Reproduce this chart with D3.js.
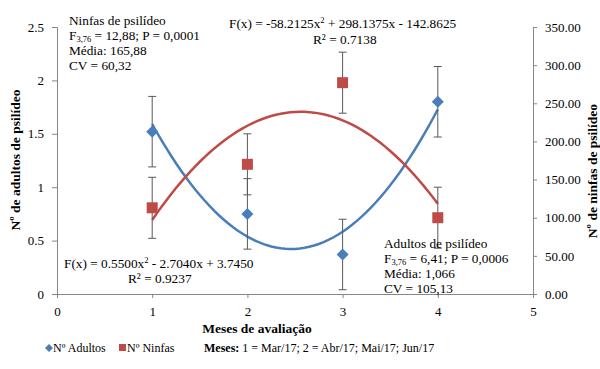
<!DOCTYPE html>
<html>
<head>
<meta charset="utf-8">
<script src="https://d3js.org/d3.v7.min.js"></script>
<style>
  body { margin: 0; background: #fff; }
  svg text { font-family: "Liberation Serif", "Times New Roman", Times, "DejaVu Serif", serif; fill: #000; }
  .axis path, .axis line { stroke: #868686; }
  .axis text { font-size: 13px; }
  .note { font-size: 13.3px; }
  .title { font-size: 13.5px; font-weight: bold; }
  .leg { font-size: 12px; }
</style>
</head>
<body>
<div id="viz"></div>
<script>
  // months 1..4
  var meses = [1, 2, 3, 4];
  var adultos = [1.52, 0.75, 0.37, 1.80];
  var adultosErr = [0.33, 0.33, 0.33, 0.33];
  var ninfas = [113, 170, 277, 100];
  var ninfasErr = [40, 40, 40, 40];

  // trend line coefficients (a, b, c) as printed on the chart
  var adultosTrend = [0.5500, -2.7040, 3.7450];
  var ninfasTrend = [-58.2125, 298.1375, -142.8625];

  var xTicks = [0, 1, 2, 3, 4, 5];
  var yLeftTicks = [0, 0.5, 1, 1.5, 2, 2.5];
  var yRightTicks = [0, 50, 100, 150, 200, 250, 300, 350];

  var width = 600, height = 369;
  var blue = "#4a7ebb", red = "#be4b48";

  var svg = d3.select("#viz").append("svg")
    .attr("width", width)
    .attr("height", height);

  var x = d3.scaleLinear().domain([0, 5]).range([57, 533]);
  var yL = d3.scaleLinear().domain([0, 2.5]).range([294, 27]);
  var yR = d3.scaleLinear().domain([0, 350]).range([294, 27]);

  // axes
  svg.append("g").attr("class", "axis")
    .attr("transform", "translate(0,294)")
    .call(d3.axisBottom(x).tickValues(xTicks).tickSize(4).tickPadding(9).tickFormat(d3.format("d")));

  svg.append("g").attr("class", "axis")
    .attr("transform", "translate(57,0)")
    .call(d3.axisLeft(yL).tickValues(yLeftTicks).tickSize(5).tickPadding(8).tickFormat(function(d) { return String(d); }));

  svg.append("g").attr("class", "axis")
    .attr("transform", "translate(533,0)")
    .call(d3.axisRight(yR).tickValues(yRightTicks).tickSize(4).tickPadding(8).tickFormat(d3.format(".2f")));

  svg.selectAll(".axis").attr("font-family", null);

  // trend lines, from month 1 to month 4
  function poly(c) { return function(v) { return c[0] * v * v + c[1] * v + c[2]; }; }
  var xs = d3.range(1, 4.001, 0.05);

  svg.append("path")
    .datum(xs)
    .attr("fill", "none").attr("stroke", blue).attr("stroke-width", 2.5)
    .attr("d", d3.line().x(function(d) { return x(d); }).y(function(d) { return yL(poly(adultosTrend)(d)); }));

  svg.append("path")
    .datum(xs)
    .attr("fill", "none").attr("stroke", red).attr("stroke-width", 2.5)
    .attr("d", d3.line().x(function(d) { return x(d); }).y(function(d) { return yR(poly(ninfasTrend)(d)); }));

  // error bars
  function errBars(vals, errs, y) {
    var g = svg.append("g").attr("stroke", "#595959").attr("stroke-width", 1);
    meses.forEach(function(m, i) {
      var cx = x(m);
      g.append("line").attr("x1", cx).attr("x2", cx)
        .attr("y1", y(vals[i] - errs[i])).attr("y2", y(vals[i] + errs[i]));
      [vals[i] - errs[i], vals[i] + errs[i]].forEach(function(v) {
        g.append("line").attr("x1", cx - 4).attr("x2", cx + 4)
          .attr("y1", y(v)).attr("y2", y(v));
      });
    });
  }
  errBars(adultos, adultosErr, yL);
  errBars(ninfas, ninfasErr, yR);

  // markers
  svg.selectAll(".diamond").data(adultos).enter().append("path")
    .attr("class", "diamond")
    .attr("d", "M0,-6L6,0L0,6L-6,0Z")
    .attr("fill", blue)
    .attr("transform", function(d, i) { return "translate(" + x(meses[i]) + "," + yL(d) + ")"; });

  svg.selectAll(".square").data(ninfas).enter().append("rect")
    .attr("class", "square")
    .attr("width", 11).attr("height", 11)
    .attr("fill", red)
    .attr("x", function(d, i) { return x(meses[i]) - 5.5; })
    .attr("y", function(d) { return yR(d) - 5.5; });

  // annotation text
  function block(x0, y0, lines) {
    lines.forEach(function(l, i) {
      var t = svg.append("text").attr("class", "note").attr("x", x0).attr("y", y0 + i * 15);
      l.forEach(function(part) {
        var s = t.append("tspan").text(part[0]);
        if (part[1] === "sub") s.attr("font-size", "8.5px").attr("dy", 2);
        if (part[1] === "back") s.attr("dy", -2);
        if (part[1] === "sup") s.attr("font-size", "8.5px").attr("dy", -5);
        if (part[1] === "down") s.attr("dy", 5);
      });
    });
  }

  block(69, 25, [
    [["Ninfas de psilídeo"]],
    [["F"], ["3,76", "sub"], [" = 12,88; P = 0,0001", "back"]],
    [["Média: 165,88"]],
    [["CV = 60,32"]]
  ]);

  block(384, 248, [
    [["Adultos de psilídeo"]],
    [["F"], ["3,76", "sub"], [" = 6,41; P = 0,0006", "back"]],
    [["Média: 1,066"]],
    [["CV = 105,13"]]
  ]);

  block(229, 28, [
    [["F(x) = -58.2125x"], ["2", "sup"], [" + 298.1375x - 142.8625", "down"]]
  ]);
  block(313, 44, [[["R² = 0.7138"]]]);

  block(64, 268, [
    [["F(x) = 0.5500x"], ["2", "sup"], [" - 2.7040x + 3.7450", "down"]]
  ]);
  block(128, 283, [[["R² = 0.9237"]]]);

  // axis titles
  svg.append("text").attr("class", "title")
    .attr("text-anchor", "middle")
    .attr("x", 257).attr("y", 333)
    .text("Meses de avaliação");

  svg.append("text").attr("class", "title")
    .attr("text-anchor", "middle")
    .attr("transform", "translate(20,160) rotate(-90)")
    .text("Nº de adultos de psilídeo");

  svg.append("text").attr("class", "title")
    .attr("text-anchor", "middle")
    .attr("transform", "translate(597,171) rotate(-90)")
    .text("Nº de ninfas de psilídeo");

  // legend
  svg.append("path").attr("d", "M0,-4L4,0L0,4L-4,0Z").attr("fill", blue)
    .attr("transform", "translate(49,348)");
  svg.append("text").attr("class", "leg").attr("x", 53).attr("y", 352).text("Nº Adultos");
  svg.append("rect").attr("x", 119).attr("y", 344).attr("width", 7).attr("height", 7).attr("fill", red);
  svg.append("text").attr("class", "leg").attr("x", 127).attr("y", 352).text("Nº Ninfas");

  var lt = svg.append("text").attr("class", "leg").attr("x", 204).attr("y", 352);
  lt.append("tspan").attr("font-weight", "bold").text("Meses:");
  lt.append("tspan").text(" 1 = Mar/17; 2 = Abr/17; Mai/17; Jun/17");
</script>
</body>
</html>
